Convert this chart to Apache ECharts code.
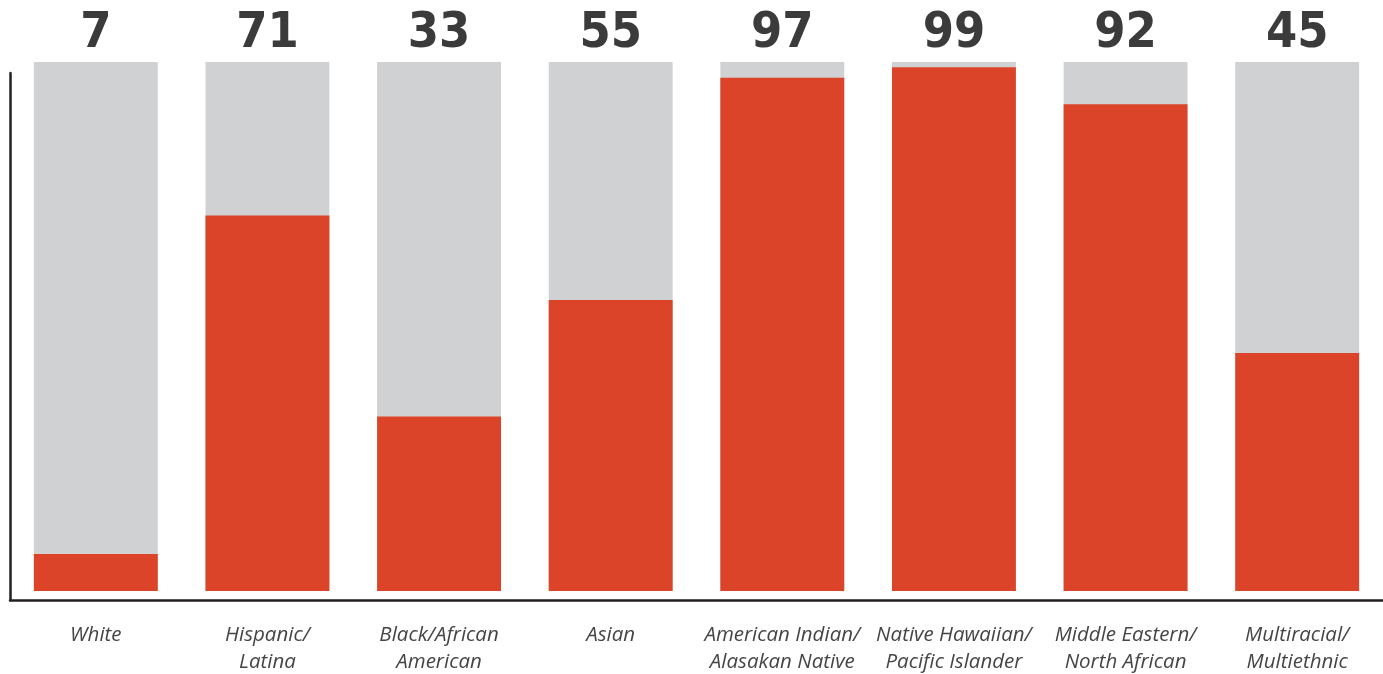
<!DOCTYPE html>
<html>
<head>
<meta charset="utf-8">
<script src="https://cdn.jsdelivr.net/npm/echarts@6/dist/echarts.min.js"></script>
<style>
html,body{margin:0;padding:0;background:#fff;}
#chart{width:1383px;height:674px;}
</style>
</head>
<body>
<div id="chart"></div>
<script>
const categories = ["White", "Hispanic/\nLatina", "Black/African\nAmerican", "Asian", "American Indian/\nAlasakan Native", "Native Hawaiian/\nPacific Islander", "Middle Eastern/\nNorth African", "Multiracial/\nMultiethnic"];
const values = [7, 71, 33, 55, 97, 99, 92, 45];
const totals = [100, 100, 100, 100, 100, 100, 100, 100];

const chart = echarts.init(document.getElementById('chart'));
chart.setOption({
  animation: false,
  grid: [
    {left: 10, right: 0, top: 62, bottom: 74, outerBoundsMode: 'none', containLabel: false},
    {left: 10, right: 0, top: 73, bottom: 74, outerBoundsMode: 'none', containLabel: false}
  ],
  xAxis: [
    {
      type: 'category', data: categories, gridIndex: 0,
      axisLine: {show: true, onZero: false, lineStyle: {color: '#231f20', width: 2.5}},
      axisTick: {show: false},
      axisLabel: {
        interval: 0, margin: 22, color: '#454545', fontStyle: 'italic',
        fontFamily: 'Open Sans', fontSize: 20.5, lineHeight: 27
      }
    },
    {type: 'category', data: categories, gridIndex: 1, show: false}
  ],
  yAxis: [
    {type: 'value', gridIndex: 0, min: -1.7, max: 100, show: false, splitLine: {show: false}},
    {
      type: 'value', gridIndex: 1, min: 0, max: 100,
      axisLine: {show: true, lineStyle: {color: '#231f20', width: 2.5}},
      axisTick: {show: false}, axisLabel: {show: false}, splitLine: {show: false}
    }
  ],
  series: [
    {
      type: 'bar', data: totals, xAxisIndex: 0, yAxisIndex: 0,
      barWidth: '72.2%', barGap: '-100%', z: 1,
      itemStyle: {color: '#d0d1d3'},
      label: {
        show: true, position: 'top', distance: 3,
        formatter: p => String(values[p.dataIndex]),
        fontFamily: "'DejaVu Sans Condensed', 'Liberation Sans Narrow', 'DejaVu Sans', sans-serif", fontWeight: 'bold',
        fontSize: 50, color: '#3b3b3b'
      }
    },
    {
      type: 'bar', data: values, xAxisIndex: 0, yAxisIndex: 0,
      barWidth: '72.2%', z: 2,
      itemStyle: {color: '#db4429'}
    }
  ]
});
</script>
</body>
</html>
